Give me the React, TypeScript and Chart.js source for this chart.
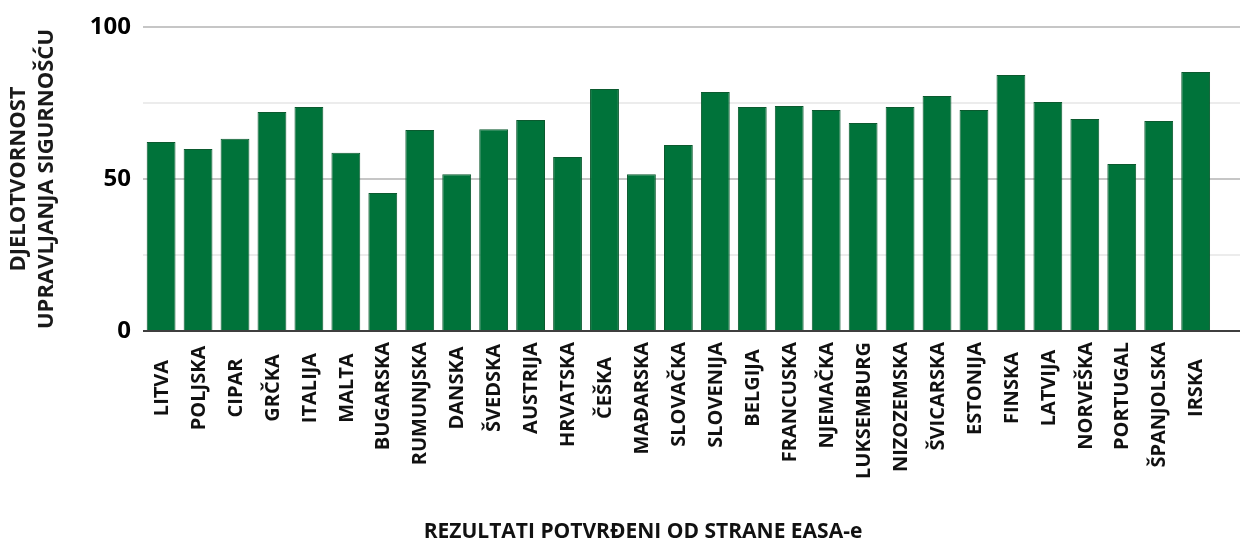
import React, { useEffect, useRef } from "react";
import { Chart, registerables } from "chart.js";

Chart.register(...registerables);

const countries: string[] = [
  "LITVA", "POLJSKA", "CIPAR", "GRČKA", "ITALIJA", "MALTA", "BUGARSKA", "RUMUNJSKA",
  "DANSKA", "ŠVEDSKA", "AUSTRIJA", "HRVATSKA", "ČEŠKA", "MAĐARSKA", "SLOVAČKA",
  "SLOVENIJA", "BELGIJA", "FRANCUSKA", "NJEMAČKA", "LUKSEMBURG", "NIZOZEMSKA",
  "ŠVICARSKA", "ESTONIJA", "FINSKA", "LATVIJA", "NORVEŠKA", "PORTUGAL", "ŠPANJOLSKA", "IRSKA",
];

const scores: number[] = [
  62.2, 59.9, 63.2, 72.0, 73.7, 58.6, 45.4, 66.1,
  51.6, 66.4, 69.4, 57.2, 79.6, 51.6, 61.2,
  78.6, 73.7, 74.0, 72.7, 68.4, 73.7,
  77.3, 72.7, 84.2, 75.3, 69.7, 54.9, 69.1, 85.2,
];

const yTickLabels: number[] = [0, 50, 100];
const yTitle: string[] = ["DJELOTVORNOST", "UPRAVLJANJA SIGURNOŠĆU"];
const xTitle = "REZULTATI POTVRĐENI OD STRANE EASA-e";

const FONT = "'Open Sans', 'DejaVu Sans', sans-serif";

const xLabelPlugin = {
  id: "xLabelPlugin",
  afterDraw(chart: any) {
    const xs = chart.scales.x;
    const ctx = chart.ctx;
    const area = chart.chartArea;
    ctx.save();
    ctx.font = `bold 20px ${FONT}`;
    ctx.fillStyle = "#111111";
    ctx.textAlign = "right";
    ctx.textBaseline = "middle";
    const centerY = area.bottom + 57;
    const minTop = area.bottom + 11;
    countries.forEach((label, i) => {
      const x = xs.getPixelForValue(i);
      const len = ctx.measureText(label).width;
      const top = Math.max(minTop, centerY - len / 2);
      ctx.save();
      ctx.translate(x + 1, top);
      ctx.rotate(-Math.PI / 2);
      ctx.fillText(label, 0, 0);
      ctx.restore();
    });
    ctx.font = `bold 21px ${FONT}`;
    ctx.textAlign = "center";
    ctx.textBaseline = "middle";
    ctx.fillText(xTitle, 643, 532);
    ctx.restore();
  },
};

export default function App() {
  const ref = useRef<HTMLCanvasElement | null>(null);

  useEffect(() => {
    if (!ref.current) return;
    const chart = new Chart(ref.current, {
      type: "bar",
      data: {
        datasets: [
          {
            data: scores.map((v, i) => ({ x: i, y: v })),
            backgroundColor: "#00733a",
            borderColor: "#0b5a2f",
            borderWidth: 1,
            barPercentage: 0.78,
            categoryPercentage: 1,
          },
        ],
      },
      options: {
        responsive: false,
        animation: false,
        events: [],
        layout: { padding: { top: 27, right: 0, bottom: 0, left: 0 } },
        plugins: {
          legend: { display: false },
          tooltip: { enabled: false },
        },
        scales: {
          x: {
            type: "linear",
            offset: false,
            min: -0.49,
            max: 29.2,
            grid: { display: false, offset: false },
            border: { display: false },
            ticks: { display: false },
            title: { display: false },
            afterFit(scale: any) {
              scale.height = 542 - 331;
            },
          },
          y: {
            min: 0,
            max: 100,
            grid: {
              drawTicks: false,
              lineWidth: 2,
              color: (ctx: any) => {
                const v = ctx.tick ? ctx.tick.value : 0;
                if (v === 0) return "#3f3f3f";
                if (yTickLabels.includes(v)) return "#c6c6c6";
                return "#ececec";
              },
            },
            border: { display: false },
            ticks: {
              stepSize: 25,
              padding: 12,
              color: "#000000",
              font: { family: FONT, size: 24, weight: "bold" },
              callback: (v: any) => (yTickLabels.includes(Number(v)) ? String(v) : ""),
            },
            title: {
              display: true,
              text: yTitle,
              color: "#1a1a1a",
              font: { family: FONT, size: 22, weight: "bold", lineHeight: 1.3 },
              padding: { top: 4, bottom: 0 },
            },
            afterFit(scale: any) {
              scale.width = 143;
            },
          },
        },
      },
      plugins: [xLabelPlugin],
    });
    return () => chart.destroy();
  }, []);

  return (
    <div style={{ position: "fixed", left: 0, top: 0, width: 1240, height: 542, background: "#fff" }}>
      <canvas ref={ref} width={1240} height={542} style={{ display: "block" }} />
    </div>
  );
}
